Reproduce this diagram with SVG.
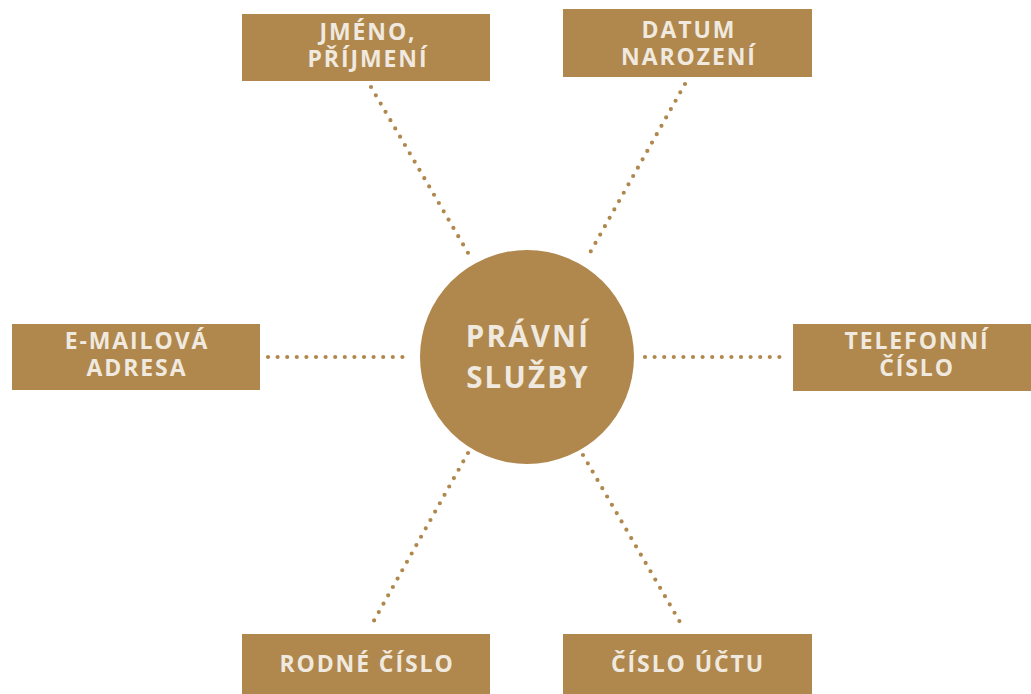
<svg xmlns="http://www.w3.org/2000/svg" width="1031" height="694" viewBox="0 0 1031 694">
<style>
.box{fill:#b0874d}
.t{font-family:"Open Sans","Liberation Sans",sans-serif;font-weight:700;font-size:23px;fill:#efe9df;text-anchor:middle;letter-spacing:1.9px}
.tc{font-size:29.5px;letter-spacing:2.2px}
.dot{stroke:#b0874d;stroke-width:4.2;stroke-linecap:round;stroke-dasharray:0 9.6;fill:none}
</style>
<rect width="1031" height="694" fill="#ffffff"/>
<g id="connectors">
<line class="dot" x1="371" y1="87" x2="471" y2="258"/>
<line class="dot" x1="685" y1="84" x2="587" y2="258"/>
<line class="dot" x1="268" y1="357" x2="410" y2="357"/>
<line class="dot" x1="645" y1="357" x2="785" y2="357"/>
<line class="dot" x1="468" y1="453" x2="371" y2="626"/>
<line class="dot" x1="583" y1="455" x2="684" y2="629"/>
</g>
<g id="center">
<circle cx="527" cy="357" r="107" class="box"/>
<text class="t tc" x="528" y="347">PRÁVNÍ</text>
<text class="t tc" x="528" y="388">SLUŽBY</text>
</g>
<g id="jmeno">
<rect class="box" x="242" y="14" width="248" height="67"/>
<text class="t" x="368" y="40">JMÉNO,</text>
<text class="t" x="368" y="67">PŘÍJMENÍ</text>
</g>
<g id="datum">
<rect class="box" x="563" y="9" width="249" height="68"/>
<text class="t" x="689" y="38">DATUM</text>
<text class="t" x="689" y="65">NAROZENÍ</text>
</g>
<g id="email">
<rect class="box" x="12" y="324" width="248" height="66"/>
<text class="t" x="137" y="349">E-MAILOVÁ</text>
<text class="t" x="137" y="376">ADRESA</text>
</g>
<g id="telefon">
<rect class="box" x="793" y="324" width="238" height="67"/>
<text class="t" x="917" y="349">TELEFONNÍ</text>
<text class="t" x="917" y="376">ČÍSLO</text>
</g>
<g id="rodne">
<rect class="box" x="242" y="634" width="248" height="60"/>
<text class="t" x="367" y="672">RODNÉ ČÍSLO</text>
</g>
<g id="ucet">
<rect class="box" x="563" y="634" width="249" height="60"/>
<text class="t" x="688" y="672">ČÍSLO ÚČTU</text>
</g>
</svg>
